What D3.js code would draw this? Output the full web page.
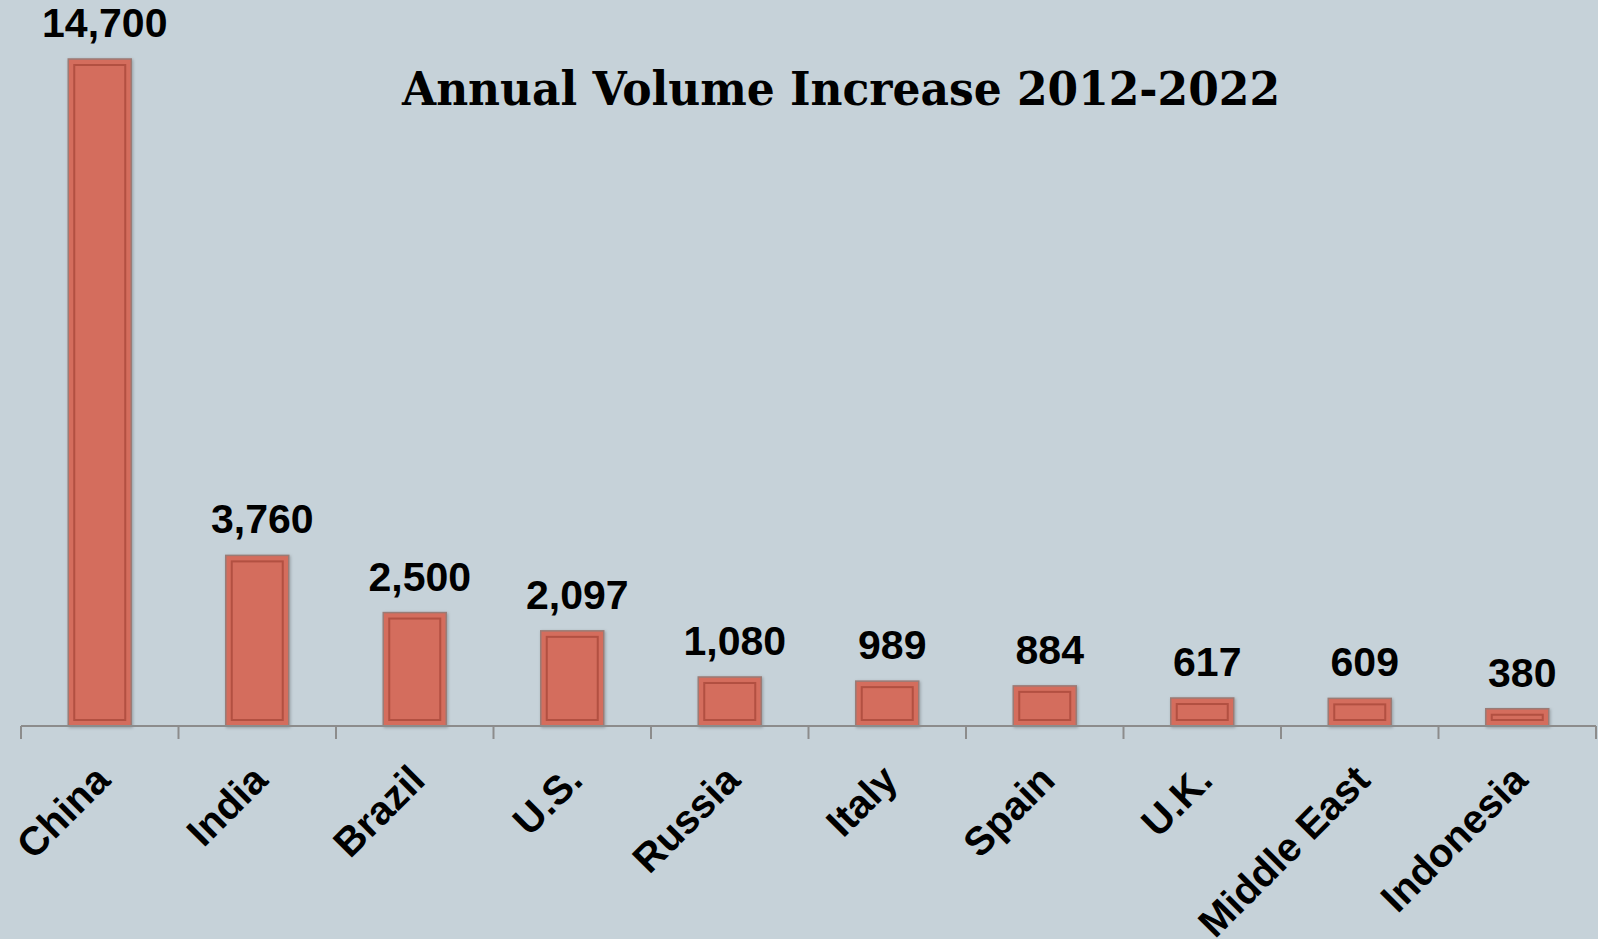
<!DOCTYPE html>
<html>
<head>
<meta charset="utf-8">
<script src="https://cdn.jsdelivr.net/npm/d3@7"></script>
<style>
  body { margin: 0; background: #c6d2d9; }
  svg { display: block; }
</style>
</head>
<body>
<svg id="chart" width="1598" height="939"></svg>
<script>
// values
const countries = ["China", "India", "Brazil", "U.S.", "Russia", "Italy", "Spain", "U.K.", "Middle East", "Indonesia"]
const volumes = [14700, 3760, 2500, 2097, 1080, 989, 884, 617, 609, 380]
const title = "Annual Volume Increase 2012-2022"

const width = 1598, height = 939
const margin = {top: 59, right: 2, bottom: 213, left: 21}

const svg = d3.select("#chart")

svg.append("rect")
  .attr("width", width)
  .attr("height", height)
  .attr("fill", "#c6d2d9")

const x = d3.scaleBand()
  .domain(countries)
  .range([margin.left, width - margin.right])
  .paddingInner(0.6)
  .paddingOuter(0.3)

// band boundaries for the tick marks
const step = x.step()
const x0 = margin.left

const y = d3.scaleLinear()
  .domain([0, d3.max(volumes)])
  .range([height - margin.bottom, margin.top])

const data = countries.map((c, i) => ({country: c, value: volumes[i]}))

// soft shadow under the bars
const defs = svg.append("defs")
const shadow = defs.append("filter").attr("id", "shadow")
  .attr("x", "-10%").attr("y", "-10%").attr("width", "130%").attr("height", "130%")
shadow.append("feDropShadow")
  .attr("dx", 1).attr("dy", 1).attr("stdDeviation", 1.5)
  .attr("flood-color", "#000").attr("flood-opacity", 0.25)

const bars = svg.append("g")
  .selectAll("g")
  .data(data)
  .join("g")

bars.append("rect")
  .attr("x", d => x(d.country))
  .attr("y", d => y(d.value))
  .attr("width", x.bandwidth())
  .attr("height", d => y(0) - y(d.value))
  .attr("fill", "#d46d5d")
  .attr("stroke", "#9a7b76")
  .attr("stroke-width", 1.5)
  .attr("filter", "url(#shadow)")

// inner bevel line
const inset = 6
bars.append("rect")
  .attr("x", d => x(d.country) + inset)
  .attr("y", d => y(d.value) + inset)
  .attr("width", x.bandwidth() - inset * 2)
  .attr("height", d => Math.max(0, y(0) - y(d.value) - inset * 2))
  .attr("fill", "none")
  .attr("stroke", "#a9493b")
  .attr("stroke-opacity", 0.8)
  .attr("stroke-width", 2)

// value labels
bars.append("text")
  .attr("x", d => x(d.country) + x.bandwidth() / 2 + 5)
  .attr("y", d => y(d.value) - 22)
  .attr("text-anchor", "middle")
  .attr("font-family", "Liberation Sans, Arial, sans-serif")
  .attr("font-weight", "bold")
  .attr("font-size", 41)
  .attr("fill", "#000")
  .text(d => d3.format(",")(d.value))

// x axis: baseline plus tick marks at band edges
const axis = svg.append("g")
axis.append("line")
  .attr("x1", x0).attr("x2", x0 + step * countries.length)
  .attr("y1", y(0)).attr("y2", y(0))
  .attr("stroke", "#8c8c8c").attr("stroke-width", 2)

axis.selectAll("line.tick")
  .data(d3.range(countries.length + 1))
  .join("line")
  .attr("class", "tick")
  .attr("x1", i => x0 + i * step).attr("x2", i => x0 + i * step)
  .attr("y1", y(0)).attr("y2", y(0) + 13)
  .attr("stroke", "#8c8c8c").attr("stroke-width", 2)

// rotated category labels
axis.selectAll("text")
  .data(countries)
  .join("text")
  .attr("transform", d => `translate(${x(d) + x.bandwidth() / 2 - 8},${y(0) + 36}) rotate(-45)`)
  .attr("text-anchor", "end")
  .attr("dy", "0.72em")
  .attr("font-family", "Liberation Sans, Arial, sans-serif")
  .attr("font-weight", "bold")
  .attr("font-size", 40)
  .attr("fill", "#000")
  .text(d => d)

// title
svg.append("text")
  .attr("x", 841)
  .attr("y", 105)
  .attr("text-anchor", "middle")
  .attr("font-family", "DejaVu Serif, serif")
  .attr("font-weight", "bold")
  .attr("font-stretch", "condensed")
  .attr("font-size", 46)
  .attr("textLength", 878)
  .attr("lengthAdjust", "spacingAndGlyphs")
  .attr("fill", "#000")
  .text(title)
</script>
</body>
</html>
